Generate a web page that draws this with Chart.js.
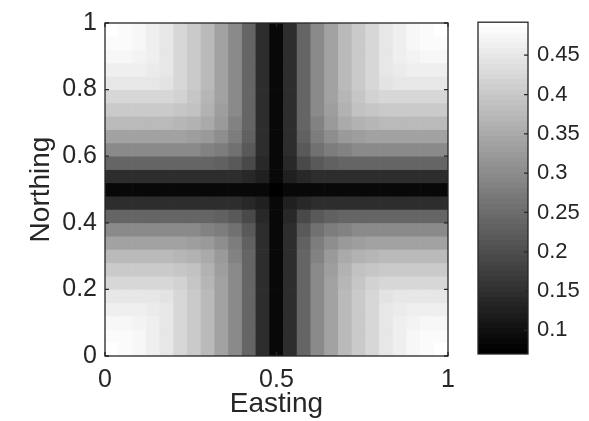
<!DOCTYPE html>
<html>
<head>
<meta charset="utf-8">
<script src="https://cdn.jsdelivr.net/npm/chart.js@4.4.1/dist/chart.umd.min.js"></script>
<style>
html,body{margin:0;padding:0;background:#fff;}
#wrap{position:relative;width:589px;height:421px;}
#main{position:absolute;left:0;top:0;}
#bar{position:absolute;left:470px;top:0;}
</style>
</head>
<body>
<div id="wrap">
  <canvas id="main" width="470" height="421"></canvas>
  <canvas id="bar" width="119" height="421"></canvas>
</div>
<script>
// cell edges (same for easting and northing)
var edges = [0,0.04,0.08,0.12,0.16,0.2,0.24,0.28,0.32,0.36,0.4,0.44,0.48,0.52,0.56,0.6,0.64,0.68,0.72,0.76,0.8,0.84,0.88,0.92,0.96,1];
var xTicks = [0,0.5,1];
var yTicks = [0,0.2,0.4,0.6,0.8,1];
var cbTicks = [0.1,0.15,0.2,0.25,0.3,0.35,0.4,0.45];

// cell values, first row = north edge (0.96-1), columns west to east
var cells = [
  [0.492,0.485,0.475,0.464,0.449,0.426,0.406,0.376,0.340,0.299,0.241,0.146,0.085,0.146,0.241,0.299,0.340,0.376,0.406,0.426,0.449,0.464,0.475,0.485,0.492],
  [0.485,0.482,0.475,0.464,0.449,0.426,0.406,0.376,0.340,0.299,0.241,0.146,0.085,0.146,0.241,0.299,0.340,0.376,0.406,0.426,0.449,0.464,0.475,0.482,0.485],
  [0.475,0.475,0.472,0.464,0.449,0.426,0.406,0.376,0.340,0.299,0.241,0.146,0.085,0.146,0.241,0.299,0.340,0.376,0.406,0.426,0.449,0.464,0.472,0.475,0.475],
  [0.464,0.464,0.464,0.459,0.449,0.426,0.406,0.376,0.340,0.299,0.241,0.146,0.085,0.146,0.241,0.299,0.340,0.376,0.406,0.426,0.449,0.459,0.464,0.464,0.464],
  [0.449,0.449,0.449,0.449,0.442,0.426,0.406,0.376,0.340,0.299,0.241,0.146,0.085,0.146,0.241,0.299,0.340,0.376,0.406,0.426,0.442,0.449,0.449,0.449,0.449],
  [0.426,0.426,0.426,0.426,0.426,0.417,0.398,0.370,0.340,0.299,0.241,0.146,0.085,0.146,0.241,0.299,0.340,0.370,0.398,0.417,0.426,0.426,0.426,0.426,0.426],
  [0.406,0.406,0.406,0.406,0.406,0.398,0.389,0.365,0.332,0.299,0.241,0.146,0.085,0.146,0.241,0.299,0.332,0.365,0.389,0.398,0.406,0.406,0.406,0.406,0.406],
  [0.376,0.376,0.376,0.376,0.376,0.370,0.365,0.353,0.324,0.287,0.241,0.146,0.085,0.146,0.241,0.287,0.324,0.353,0.365,0.370,0.376,0.376,0.376,0.376,0.376],
  [0.340,0.340,0.340,0.340,0.340,0.340,0.332,0.324,0.307,0.277,0.230,0.146,0.085,0.146,0.230,0.277,0.307,0.324,0.332,0.340,0.340,0.340,0.340,0.340,0.340],
  [0.299,0.299,0.299,0.299,0.299,0.299,0.299,0.287,0.277,0.258,0.217,0.146,0.085,0.146,0.217,0.258,0.277,0.287,0.299,0.299,0.299,0.299,0.299,0.299,0.299],
  [0.241,0.241,0.241,0.241,0.241,0.241,0.241,0.241,0.230,0.217,0.195,0.139,0.085,0.139,0.195,0.217,0.230,0.241,0.241,0.241,0.241,0.241,0.241,0.241,0.241],
  [0.146,0.146,0.146,0.146,0.146,0.146,0.146,0.146,0.146,0.146,0.139,0.126,0.085,0.126,0.139,0.146,0.146,0.146,0.146,0.146,0.146,0.146,0.146,0.146,0.146],
  [0.085,0.085,0.085,0.085,0.085,0.085,0.085,0.085,0.085,0.085,0.085,0.085,0.070,0.085,0.085,0.085,0.085,0.085,0.085,0.085,0.085,0.085,0.085,0.085,0.085],
  [0.146,0.146,0.146,0.146,0.146,0.146,0.146,0.146,0.146,0.146,0.139,0.126,0.085,0.126,0.139,0.146,0.146,0.146,0.146,0.146,0.146,0.146,0.146,0.146,0.146],
  [0.241,0.241,0.241,0.241,0.241,0.241,0.241,0.241,0.230,0.217,0.195,0.139,0.085,0.139,0.195,0.217,0.230,0.241,0.241,0.241,0.241,0.241,0.241,0.241,0.241],
  [0.299,0.299,0.299,0.299,0.299,0.299,0.299,0.287,0.277,0.258,0.217,0.146,0.085,0.146,0.217,0.258,0.277,0.287,0.299,0.299,0.299,0.299,0.299,0.299,0.299],
  [0.340,0.340,0.340,0.340,0.340,0.340,0.332,0.324,0.307,0.277,0.230,0.146,0.085,0.146,0.230,0.277,0.307,0.324,0.332,0.340,0.340,0.340,0.340,0.340,0.340],
  [0.376,0.376,0.376,0.376,0.376,0.370,0.365,0.353,0.324,0.287,0.241,0.146,0.085,0.146,0.241,0.287,0.324,0.353,0.365,0.370,0.376,0.376,0.376,0.376,0.376],
  [0.406,0.406,0.406,0.406,0.406,0.398,0.389,0.365,0.332,0.299,0.241,0.146,0.085,0.146,0.241,0.299,0.332,0.365,0.389,0.398,0.406,0.406,0.406,0.406,0.406],
  [0.426,0.426,0.426,0.426,0.426,0.417,0.398,0.370,0.340,0.299,0.241,0.146,0.085,0.146,0.241,0.299,0.340,0.370,0.398,0.417,0.426,0.426,0.426,0.426,0.426],
  [0.449,0.449,0.449,0.449,0.442,0.426,0.406,0.376,0.340,0.299,0.241,0.146,0.085,0.146,0.241,0.299,0.340,0.376,0.406,0.426,0.442,0.449,0.449,0.449,0.449],
  [0.464,0.464,0.464,0.459,0.449,0.426,0.406,0.376,0.340,0.299,0.241,0.146,0.085,0.146,0.241,0.299,0.340,0.376,0.406,0.426,0.449,0.459,0.464,0.464,0.464],
  [0.475,0.475,0.472,0.464,0.449,0.426,0.406,0.376,0.340,0.299,0.241,0.146,0.085,0.146,0.241,0.299,0.340,0.376,0.406,0.426,0.449,0.464,0.472,0.475,0.475],
  [0.485,0.482,0.475,0.464,0.449,0.426,0.406,0.376,0.340,0.299,0.241,0.146,0.085,0.146,0.241,0.299,0.340,0.376,0.406,0.426,0.449,0.464,0.475,0.482,0.485],
  [0.492,0.485,0.475,0.464,0.449,0.426,0.406,0.376,0.340,0.299,0.241,0.146,0.085,0.146,0.241,0.299,0.340,0.376,0.406,0.426,0.449,0.464,0.475,0.485,0.492]
];

var FONT = '"Liberation Sans", Arial, Helvetica, sans-serif';
var INK = '#262626';

var all = [].concat.apply([], cells);
var cmin = Math.min.apply(null, all);
var cmax = Math.max.apply(null, all);

// matlab style gray colormap, 64 levels
function grayOf(v){
  var k = Math.floor((v - cmin) / (cmax - cmin) * 64);
  if (k > 63) k = 63;
  if (k < 0) k = 0;
  var g = Math.round(k / 63 * 255);
  return 'rgb(' + g + ',' + g + ',' + g + ')';
}

var n = cells.length;
var datasets = [];
for (var r = 0; r < n; r++) {
  var lo = edges[n - 1 - r], hi = edges[n - r];
  var pts = [];
  for (var c = 0; c < cells[r].length; c++) {
    pts.push({x: (edges[c] + edges[c + 1]) / 2, y: [lo, hi]});
  }
  datasets.push({
    data: pts,
    backgroundColor: cells[r].map(grayOf),
    borderWidth: 0,
    barPercentage: 1,
    categoryPercentage: 1,
    grouped: false
  });
}

var frame = {
  id: 'frame',
  afterDraw: function(chart){
    var ctx = chart.ctx, a = chart.chartArea;
    var sx = chart.scales.x, sy = chart.scales.y;
    ctx.save();
    ctx.strokeStyle = INK;
    ctx.lineWidth = 1.3;
    ctx.beginPath();
    xTicks.forEach(function(v){
      var p = sx.getPixelForValue(v);
      ctx.moveTo(p, a.bottom); ctx.lineTo(p, a.bottom - 4);
      ctx.moveTo(p, a.top); ctx.lineTo(p, a.top + 4);
    });
    yTicks.forEach(function(v){
      var p = sy.getPixelForValue(v);
      ctx.moveTo(a.left, p); ctx.lineTo(a.left + 4, p);
      ctx.moveTo(a.right, p); ctx.lineTo(a.right - 4, p);
    });
    ctx.stroke();
    ctx.strokeRect(a.left, a.top, a.right - a.left, a.bottom - a.top);
    ctx.restore();
  }
};

new Chart(document.getElementById('main'), {
  type: 'bar',
  data: {datasets: datasets},
  options: {
    responsive: false,
    animation: false,
    layout: {padding: {left: 0, top: 14, right: 22, bottom: 0}},
    plugins: {legend: {display: false}, tooltip: {enabled: false}},
    scales: {
      x: {
        type: 'linear', min: 0, max: 1, offset: false, stacked: false,
        grid: {display: false, drawTicks: false},
        border: {display: false},
        afterBuildTicks: function(s){ s.ticks = xTicks.map(function(v){ return {value: v}; }); },
        afterFit: function(s){ s.height = 65; },
        ticks: {color: INK, font: {family: FONT, size: 25}, padding: 9, maxRotation: 0,
          callback: function(v){ return String(v); }},
        title: {display: true, text: 'Easting', color: INK, font: {family: FONT, size: 28}, padding: {top: 0, bottom: 0}}
      },
      y: {
        type: 'linear', min: 0, max: 1, stacked: false,
        grid: {display: false, drawTicks: false},
        border: {display: false},
        afterBuildTicks: function(s){ s.ticks = yTicks.map(function(v){ return {value: v}; }); },
        afterFit: function(s){ s.width = 105; },
        ticks: {color: INK, font: {family: FONT, size: 25}, padding: 8,
          callback: function(v){ return String(v); }},
        title: {display: true, text: 'Northing', color: INK, font: {family: FONT, size: 28}, padding: {top: 24, bottom: 0}}
      }
    }
  },
  plugins: [frame]
});

// colorbar
var cbFrame = {
  id: 'cbFrame',
  afterDraw: function(chart){
    var ctx = chart.ctx, a = chart.chartArea, sy = chart.scales.y;
    ctx.save();
    ctx.strokeStyle = INK;
    ctx.lineWidth = 1.3;
    ctx.beginPath();
    cbTicks.forEach(function(v){
      var p = sy.getPixelForValue(v);
      ctx.moveTo(a.right, p); ctx.lineTo(a.right - 4, p);
    });
    ctx.stroke();
    ctx.strokeRect(a.left, a.top, a.right - a.left, a.bottom - a.top);
    ctx.restore();
  }
};

new Chart(document.getElementById('bar'), {
  type: 'bar',
  data: {
    labels: [''],
    datasets: [{
      data: [[cmin, cmax]],
      backgroundColor: function(c){
        var a = c.chart.chartArea;
        if (!a) return '#808080';
        var g = c.chart.ctx.createLinearGradient(0, a.bottom, 0, a.top);
        for (var k = 0; k < 64; k++) {
          var v = Math.round(k / 63 * 255);
          var col = 'rgb(' + v + ',' + v + ',' + v + ')';
          g.addColorStop(k / 64, col);
          g.addColorStop((k + 1) / 64, col);
        }
        return g;
      },
      borderWidth: 0,
      barPercentage: 1,
      categoryPercentage: 1
    }]
  },
  options: {
    responsive: false,
    animation: false,
    layout: {padding: {left: 8, top: 14, right: 0, bottom: 67}},
    plugins: {legend: {display: false}, tooltip: {enabled: false}},
    scales: {
      x: {display: false},
      y: {
        position: 'right', min: cmin, max: cmax,
        grid: {display: false, drawTicks: false},
        border: {display: false},
        afterBuildTicks: function(s){ s.ticks = cbTicks.map(function(v){ return {value: v}; }); },
        afterFit: function(s){ s.width = 61; },
        ticks: {color: INK, font: {family: FONT, size: 22}, padding: 9,
          callback: function(v){ return String(v); }}
      }
    }
  },
  plugins: [cbFrame]
});
</script>
</body>
</html>
